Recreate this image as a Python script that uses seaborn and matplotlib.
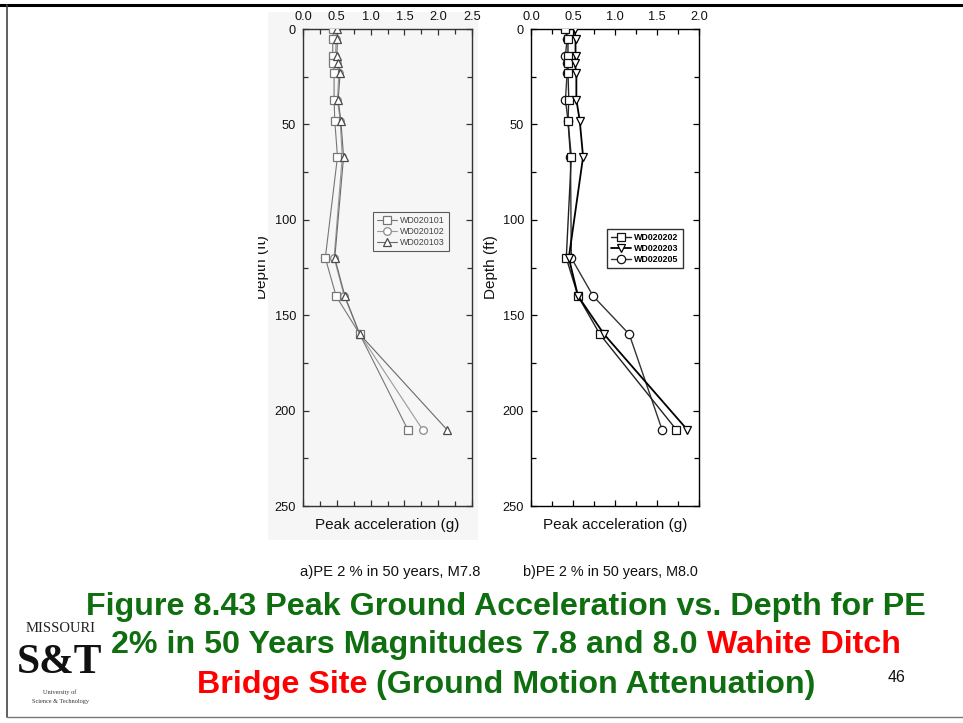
import matplotlib
matplotlib.use("Agg")
import matplotlib.pyplot as plt
from matplotlib.patches import Rectangle
from matplotlib.lines import Line2D
from matplotlib.transforms import Bbox, TransformedBbox
from matplotlib.ticker import MultipleLocator
import seaborn as sns
import pandas as pd

sns.set_theme(style="white")
plt.rcParams["font.family"] = ["Liberation Sans", "DejaVu Sans"]

# ---- data -------------------------------------------------------------
depth_ft = [0, 5, 14, 18, 23, 37, 48, 67, 120, 140, 160, 210]

# a) PE 2 % in 50 years, M7.8
wd020101 = [0.45, 0.44, 0.44, 0.45, 0.46, 0.46, 0.47, 0.51, 0.33, 0.49, 0.84, 1.55]
wd020102 = [0.49, 0.49, 0.48, 0.50, 0.53, 0.51, 0.55, 0.58, 0.46, 0.61, 0.84, 1.77]
wd020103 = [0.51, 0.51, 0.50, 0.52, 0.55, 0.52, 0.56, 0.60, 0.47, 0.62, 0.84, 2.13]

# b) PE 2 % in 50 years, M8.0
wd020202 = [0.41, 0.44, 0.44, 0.44, 0.44, 0.45, 0.44, 0.48, 0.42, 0.56, 0.82, 1.73]
wd020203 = [0.52, 0.53, 0.53, 0.52, 0.54, 0.54, 0.58, 0.62, 0.45, 0.56, 0.87, 1.86]
wd020205 = [0.41, 0.43, 0.41, 0.43, 0.43, 0.41, 0.44, 0.47, 0.48, 0.74, 1.17, 1.56]

panel_a_names = ["WD020101", "WD020102", "WD020103"]
panel_b_names = ["WD020202", "WD020203", "WD020205"]
x_ticks_a = [0.0, 0.5, 1.0, 1.5, 2.0, 2.5]
x_ticks_b = [0.0, 0.5, 1.0, 1.5, 2.0]
y_ticks = [0, 50, 100, 150, 200, 250]

W, H = 963, 723
fig = plt.figure(figsize=(W / 100, H / 100), dpi=100)
fig.patch.set_facecolor("white")


def fx(x):
    return x / W


def fy(y):
    return 1 - y / H


# faint grey of the scanned left figure
fig.patches.append(Rectangle((fx(268), fy(540)), fx(478) - fx(268), fy(12) - fy(540),
                             transform=fig.transFigure, facecolor="#f6f6f6",
                             edgecolor="none", zorder=-10))

# slide frame
fig.add_artist(Line2D([0, 1], [fy(5), fy(5)], transform=fig.transFigure, color="black", lw=2.2))
fig.add_artist(Line2D([fx(7), fx(7)], [fy(5), fy(717)], transform=fig.transFigure, color="#444444", lw=1.2))
fig.add_artist(Line2D([fx(7), 1], [fy(717), fy(717)], transform=fig.transFigure, color="#777777", lw=1.0))


def make_axes(x0, x1, y0, y1):
    ax = fig.add_axes([fx(x0), fy(y1), fx(x1) - fx(x0), fy(y0) - fy(y1)])
    ax.set_facecolor("none")
    ax.set_zorder(2)
    return ax


def style_axes(ax, xmax, xticks, spine_color):
    ax.set_xlim(0, xmax)
    ax.set_ylim(250, 0)
    ax.xaxis.tick_top()
    ax.set_xticks(xticks)
    ax.set_xticklabels([f"{v:.1f}" for v in xticks])
    ax.xaxis.set_minor_locator(MultipleLocator(0.25))
    ax.set_yticks(y_ticks)
    ax.yaxis.set_minor_locator(MultipleLocator(25))
    ax.tick_params(which="both", direction="in", top=True, bottom=True, left=True, right=True,
                   labeltop=True, labelbottom=False, labelleft=True, labelright=False,
                   labelsize=9.2, color=spine_color, width=0.9, labelcolor="#111111")
    ax.tick_params(which="major", length=4.5, pad=5)
    ax.tick_params(which="minor", length=3.5)
    ax.tick_params(axis="x", which="major", pad=4)
    for s in ax.spines.values():
        s.set_color(spine_color)
        s.set_linewidth(1.0)
        s.set_visible(True)
    ax.xaxis.set_label_position("bottom")
    ax.set_xlabel("Peak acceleration (g)", fontsize=11, labelpad=9, color="#111111")
    ax.set_ylabel("Depth (ft)", fontsize=11, labelpad=4, color="#111111")
    ax.grid(False)


def draw_series(ax, values, name, marker, ms, line_color, edge_color, lw, z):
    df = pd.DataFrame({"accel": values, "depth": depth_ft})
    sns.lineplot(data=df, x="accel", y="depth", ax=ax, sort=False, estimator=None,
                 color=line_color, lw=lw, marker=marker, markersize=ms,
                 markerfacecolor="white", markeredgecolor=edge_color,
                 markeredgewidth=0.9, label=name, zorder=z)


def reorder_legend(ax, names, **kw):
    handles, labels = ax.get_legend_handles_labels()
    lookup = dict(zip(labels, handles))
    return ax.legend([lookup[n] for n in names], names, **kw)


legend_kw = dict(loc="upper left", fontsize=6.4, frameon=True, fancybox=False,
                 borderpad=0.45, handlelength=2.2, handletextpad=0.4,
                 labelspacing=0.25, borderaxespad=0)

# ---- panel a ----------------------------------------------------------
ax1 = make_axes(303, 472, 29, 506)
draw_series(ax1, wd020102, panel_a_names[1], "o", 5.5, "#9a9a9a", "#8a8a8a", 0.8, 2)
draw_series(ax1, wd020101, panel_a_names[0], "s", 5.5, "#777777", "#777777", 0.8, 3)
draw_series(ax1, wd020103, panel_a_names[2], "^", 6.0, "#6a6a6a", "#4a4a4a", 0.8, 4)
style_axes(ax1, 2.5, x_ticks_a, "#333333")
leg1 = reorder_legend(ax1, panel_a_names,
                      bbox_to_anchor=((373 - 303) / 169, 1 - (212 - 29) / 477),
                      edgecolor="#333333", **legend_kw)
leg1.get_frame().set_linewidth(0.8)
leg1.get_frame().set_facecolor("none")
for t in leg1.get_texts():
    t.set_color("#444444")

# the left panel's axis title runs off the scanned page edge
lab = ax1.yaxis.label
ax1.yaxis.set_label_coords(-(303 - 269) / 169, 0.5)
lab.set_clip_box(TransformedBbox(Bbox([[fx(258), 0], [fx(300), 1]]), fig.transFigure))
lab.set_clip_on(True)

# ---- panel b ----------------------------------------------------------
ax2 = make_axes(531, 699, 29, 506)
draw_series(ax2, wd020205, panel_b_names[2], "o", 6.0, "#333333", "#111111", 1.0, 2)
draw_series(ax2, wd020202, panel_b_names[0], "s", 5.5, "#222222", "#111111", 1.0, 3)
draw_series(ax2, wd020203, panel_b_names[1], "v", 6.0, "#000000", "#000000", 1.3, 4)
style_axes(ax2, 2.0, x_ticks_b, "#000000")
ax2.yaxis.set_label_coords(-(531 - 498) / 168, 0.5)
leg2 = reorder_legend(ax2, panel_b_names,
                      bbox_to_anchor=((607 - 531) / 168, 1 - (229 - 29) / 477),
                      edgecolor="#000000", **legend_kw)
leg2.get_frame().set_linewidth(1.0)
leg2.get_frame().set_facecolor("white")
for t in leg2.get_texts():
    t.set_color("#000000")
    t.set_fontweight("bold")

# ---- sub captions -----------------------------------------------------
fig.text(fx(300), fy(572), "a)PE 2 % in 50 years, M7.8", fontsize=10.6, ha="left", va="center", color="#111111")
fig.text(fx(523), fy(572), "b)PE 2 % in 50 years, M8.0", fontsize=10.4, ha="left", va="center", color="#111111")

# ---- slide title ------------------------------------------------------
GREEN = "#0f6e0f"
RED = "#ff0000"
renderer = fig.canvas.get_renderer()


def colored_line(y, parts, cx=506, size=23.2):
    items = []
    for txt, col in parts:
        t = fig.text(0, fy(y), txt, fontsize=size, fontweight="bold", color=col,
                     ha="left", va="center")
        items.append(t)
    widths = [t.get_window_extent(renderer=renderer).width for t in items]
    total = sum(widths)
    x = cx - total / 2
    for t, w in zip(items, widths):
        t.set_x(fx(x))
        x += w


colored_line(607, [("Figure 8.43 Peak Ground Acceleration vs. Depth for PE", GREEN)])
colored_line(645, [("2% in 50 Years Magnitudes 7.8 and 8.0 ", GREEN), ("Wahite Ditch", RED)])
colored_line(685, [("Bridge Site", RED), (" (Ground Motion Attenuation)", GREEN)])

fig.text(fx(897), fy(678), "46", fontsize=11.5, ha="center", va="center", color="#111111")

# ---- university mark --------------------------------------------------
serif = ["Liberation Serif", "DejaVu Serif"]
fig.text(fx(61), fy(628), "MISSOURI", family=serif, fontsize=10.5, ha="center", va="center", color="#222222")
fig.text(fx(60), fy(663), "S&T", family=serif, fontsize=30, fontweight="bold", ha="center", va="center", color="#111111")
fig.text(fx(60), fy(692), "University of", family=serif, fontsize=4.5, ha="center", va="center", color="#333333")
fig.text(fx(60), fy(702), "Science & Technology", family=serif, fontsize=4.5, ha="center", va="center", color="#333333")

fig.savefig("out.png", dpi=100, facecolor="white")
